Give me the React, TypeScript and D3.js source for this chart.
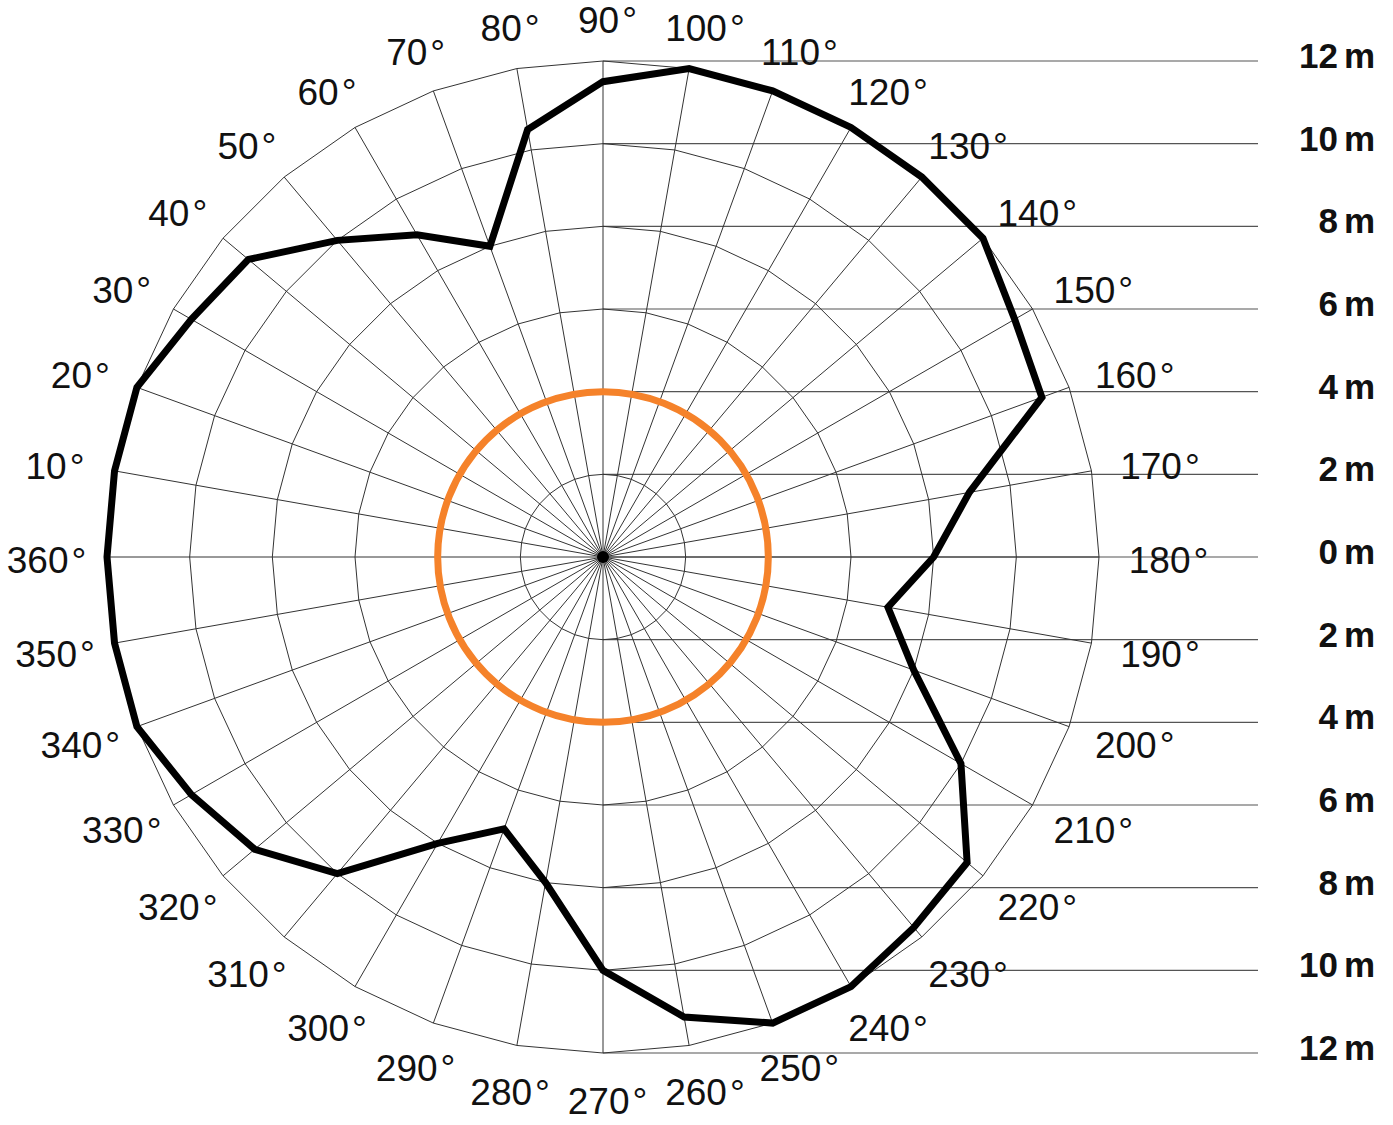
import React from "react";
import * as d3 from "d3";

// Data: direction (degrees) -> distance (m)
const angles: number[] = [10, 20, 30, 40, 50, 60, 70, 80, 90, 100, 110, 120, 130, 140, 150, 160, 170, 180,
  190, 200, 210, 220, 230, 240, 250, 260, 270, 280, 290, 300, 310, 320, 330, 340, 350, 360];
const distances: number[] = [12, 12, 11.5, 11.2, 10, 9, 8, 10.5, 11.5, 12, 12, 12, 12, 12, 11.5, 11.3, 9, 8,
  7, 8, 10, 11.5, 11.7, 12, 12, 11.3, 10, 8, 7, 8, 10, 11, 11.5, 12, 12, 12];
const ringValues: number[] = [2, 4, 6, 8, 10, 12];
const scaleTickLabels: string[] = ["12", "10", "8", "6", "4", "2", "0", "2", "4", "6", "8", "10", "12"];
const scaleTickValues: number[] = [12, 10, 8, 6, 4, 2, 0, -2, -4, -6, -8, -10, -12];
const referenceCircle = 4;

const W = 1393;
const H = 1125;
const cx = 603;
const cy = 557;
const R = 496;

export default function App() {
  const r = d3.scaleLinear().domain([0, 12]).range([0, R]);
  // theta in degrees: 90 top, 180 right -> radial angle clockwise from top
  const toRad = (deg: number) => ((deg - 90) * Math.PI) / 180;

  const ringLine = d3
    .lineRadial<number>()
    .angle((d) => toRad(d))
    .curve(d3.curveLinearClosed);

  const dataLine = d3
    .lineRadial<number>()
    .angle((_, i) => toRad(angles[i]))
    .radius((d) => r(d))
    .curve(d3.curveLinearClosed);

  const font = "'Liberation Sans', Arial, Helvetica, sans-serif";

  // label ellipse
  const lcx = cx + 4.5;
  const lcy = cy + 3.5;
  const lrx = 561;
  const lry = 540.5;

  return (
    <div style={{ position: "absolute", left: 0, top: 0 }}>
      <svg width={W} height={H} style={{ display: "block", background: "#fff" }}>
        {/* horizontal scale lines */}
        {scaleTickValues.map((v, i) => (
          <line key={"h" + i} x1={cx} x2={1258} y1={cy - r(v)} y2={cy - r(v)} stroke="#555" strokeWidth={1.2} />
        ))}
        <g transform={`translate(${cx},${cy})`}>
          {ringValues.map((rv) => (
            <path
              key={"ring" + rv}
              d={ringLine.radius(() => r(rv))(angles) || ""}
              fill="none"
              stroke="#333"
              strokeWidth={1}
            />
          ))}
          {angles.map((a) => {
            const ang = toRad(a);
            return (
              <line
                key={"s" + a}
                x1={0}
                y1={0}
                x2={r(12) * Math.sin(ang)}
                y2={-r(12) * Math.cos(ang)}
                stroke="#333"
                strokeWidth={1}
              />
            );
          })}
          <circle r={6} fill="#000" />
          <circle r={r(referenceCircle)} fill="none" stroke="#F5822A" strokeWidth={7} />
          <path d={dataLine(distances) || ""} fill="none" stroke="#000" strokeWidth={7} strokeLinejoin="miter" />
        </g>
        {/* angle labels */}
        {angles.map((a) => {
          const ang = toRad(a);
          const x = lcx + lrx * Math.sin(ang);
          const y = lcy - lry * Math.cos(ang);
          return (
            <text
              key={"l" + a}
              x={x}
              y={y}
              textAnchor="middle"
              dominantBaseline="central"
              fontFamily={font}
              fontSize={37}
              fill="#111"
            >
              {a}
              <tspan dx={3}>°</tspan>
            </text>
          );
        })}
        {/* distance labels */}
        {scaleTickValues.map((v, i) => (
          <text
            key={"t" + i}
            x={1375}
            y={cy - r(v) + 7}
            textAnchor="end"
            fontFamily={font}
            fontSize={35}
            fontWeight="bold"
            fill="#111"
          >
            {scaleTickLabels[i]}
            <tspan dx={6}>m</tspan>
          </text>
        ))}
      </svg>
    </div>
  );
}
